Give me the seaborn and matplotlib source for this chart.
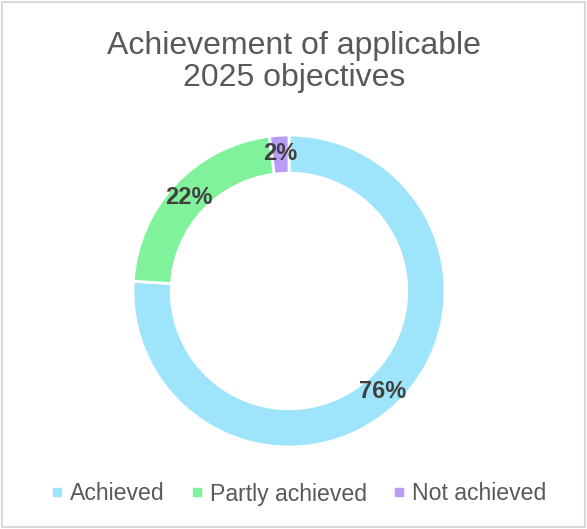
import matplotlib
matplotlib.use("Agg")
import matplotlib.pyplot as plt
from matplotlib.lines import Line2D
import numpy as np
import seaborn as sns

categories = ["Achieved", "Partly achieved", "Not achieved"]
values = [76, 22, 2]
labels = ["76%", "22%", "2%"]
colors = ["#9EE4FB", "#80F29B", "#B99CF6"]

sns.set_theme(style="white")
plt.rcParams['font.family'] = ['Liberation Sans', 'DejaVu Sans']

W, H = 587, 529
fig = plt.figure(figsize=(W / 100, H / 100), dpi=100)
fig.patch.set_facecolor("white")

cx, cy, R = 289, 291, 156
ax = fig.add_axes([(cx - R) / W, (H - cy - R) / H, 2 * R / W, 2 * R / H])
wedges, _ = ax.pie(values, colors=colors, startangle=90, counterclock=False,
                   radius=1.0, wedgeprops=dict(width=0.245, edgecolor="white", linewidth=2))
cum = np.cumsum([0] + values[:-1])
total = sum(values)
for v, c, lab in zip(values, cum, labels):
    ang = np.deg2rad(90 - (c + v / 2) / total * 360)
    r = 0.88
    ax.text(r * np.cos(ang), r * np.sin(ang), lab, ha="center", va="center",
            fontsize=17, fontweight="bold", color="#404040")
ax.set_xlim(-1, 1)
ax.set_ylim(-1, 1)
ax.set_aspect("equal")
ax.axis("off")

fig.text(294 / W, 1 - 62 / H, "Achievement of applicable\n2025 objectives", ha="center", va="center",
         fontsize=23, color="#595959", linespacing=1.1)

handles = [Line2D([], [], marker="s", linestyle="", markersize=6, color=c) for c in colors]
leg = fig.legend(handles, categories, loc="center", bbox_to_anchor=(297 / W, 1 - 494 / H), ncol=3,
                 frameon=False, fontsize=16.6, handletextpad=0.15, columnspacing=1.0, labelcolor="#595959",
                 handlelength=0.8)

border = plt.Rectangle((0.003, 0.003), 0.994, 0.994, transform=fig.transFigure, fill=False,
                       edgecolor="#D9D9D9", linewidth=1.5)
fig.patches.append(border)

fig.savefig("out.png", dpi=100, facecolor="white")
